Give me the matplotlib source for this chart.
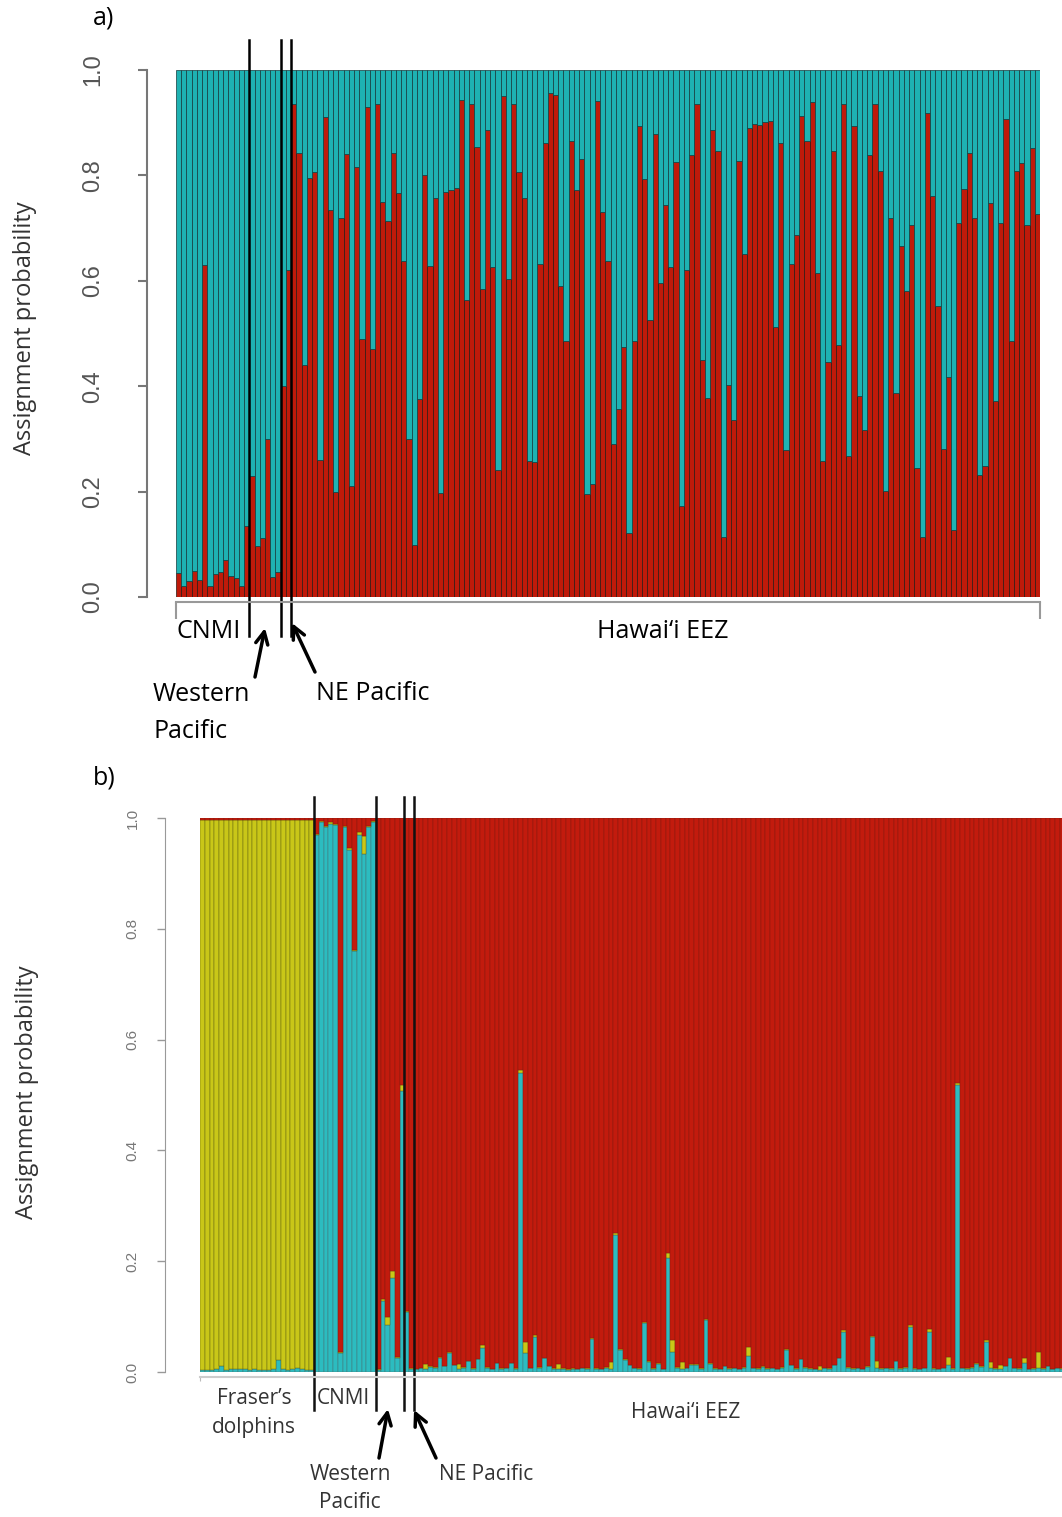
import numpy as np
import matplotlib
matplotlib.use("Agg")
import matplotlib.pyplot as plt

W, H = 1062, 1517

# ---- panel a: proportion assigned to the red cluster (rest is cyan) ----
cnmi_a = [0.045, 0.020, 0.030, 0.050, 0.033, 0.630, 0.020, 0.044, 0.047, 0.070,
          0.040, 0.036, 0.020, 0.135]
wpac_a = [0.230, 0.097, 0.112, 0.300, 0.038, 0.047]
nepac_a = [0.400, 0.620]
hawaii_a = [0.936, 0.843, 0.440, 0.795, 0.807, 0.260, 0.910, 0.734, 0.200, 0.720,
            0.840, 0.210, 0.815, 0.490, 0.930, 0.470, 0.936, 0.750, 0.713, 0.843,
            0.766, 0.638, 0.300, 0.098, 0.375, 0.800, 0.628, 0.758, 0.198, 0.768,
            0.773, 0.777, 0.943, 0.564, 0.936,
            0.853, 0.585, 0.886, 0.626, 0.241, 0.950, 0.603, 0.936, 0.807, 0.758,
            0.259, 0.257, 0.631, 0.861, 0.956, 0.952, 0.591, 0.485, 0.865, 0.772,
            0.832, 0.196, 0.214, 0.942, 0.730, 0.637, 0.291, 0.356, 0.475, 0.121,
            0.485, 0.893, 0.794, 0.525, 0.879, 0.595, 0.743, 0.626, 0.825, 0.172,
            0.621, 0.839, 0.936, 0.449, 0.378, 0.886, 0.846, 0.113, 0.402, 0.336,
            0.827, 0.650, 0.889, 0.898,
            0.896, 0.902, 0.904, 0.512, 0.861, 0.279, 0.631, 0.687, 0.913, 0.865,
            0.940, 0.614, 0.258, 0.445, 0.846, 0.479, 0.936, 0.268, 0.893, 0.381,
            0.316, 0.838, 0.936, 0.808, 0.201, 0.719, 0.388, 0.666, 0.580, 0.706,
            0.244, 0.114, 0.919, 0.761, 0.553, 0.281, 0.417, 0.128, 0.709, 0.775,
            0.843, 0.720, 0.231, 0.248, 0.747, 0.371, 0.709, 0.907, 0.485, 0.808,
            0.824, 0.705, 0.852, 0.727]

# ---- panel b: cyan (bottom) and yellow (middle); red fills the rest ----
fraser_cyan = [0.004, 0.003, 0.004, 0.005, 0.010, 0.004, 0.006, 0.005, 0.006, 0.005,
               0.004, 0.006, 0.004, 0.003, 0.004, 0.005, 0.022, 0.006, 0.004, 0.005,
               0.007, 0.005, 0.004, 0.004]
fraser_yellow = [0.993, 0.994, 0.992, 0.991, 0.986, 0.993, 0.990, 0.992, 0.990, 0.991,
                 0.992, 0.990, 0.993, 0.994, 0.992, 0.991, 0.975, 0.991, 0.993, 0.992,
                 0.989, 0.991, 0.992, 0.993]
cnmi_cyan = [0.970, 0.993, 0.983, 0.990, 0.987, 0.035, 0.983, 0.943, 0.760, 0.969,
             0.935, 0.983, 0.993]
cnmi_yellow = [0.002, 0.002, 0.002, 0.002, 0.002, 0.001, 0.002, 0.002, 0.001, 0.005,
               0.033, 0.002, 0.002]
wpac_cyan = [0.004, 0.129, 0.085, 0.170, 0.025, 0.508]
wpac_yellow = [0.001, 0.003, 0.015, 0.012, 0.002, 0.010]
nepac_cyan = [0.108, 0.006]
nepac_yellow = [0.002, 0.001]
hawaii_cyan = [0.005, 0.007, 0.006, 0.009, 0.008, 0.026, 0.010, 0.034, 0.012, 0.006,
               0.008, 0.019, 0.006, 0.023, 0.043, 0.008, 0.005, 0.016, 0.006, 0.007,
               0.016, 0.006, 0.540, 0.034, 0.007, 0.064, 0.008, 0.025, 0.010, 0.006,
               0.005, 0.006, 0.004, 0.006, 0.005, 0.007, 0.006, 0.059, 0.006, 0.005,
               0.008, 0.006, 0.247, 0.040, 0.022, 0.012, 0.007, 0.006, 0.088, 0.018,
               0.006, 0.015, 0.005, 0.206, 0.037, 0.008, 0.006, 0.007, 0.013, 0.013,
               0.006, 0.094, 0.015, 0.006, 0.005, 0.010, 0.006, 0.007, 0.005, 0.008,
               0.028, 0.007, 0.006, 0.009, 0.006, 0.007, 0.005, 0.008, 0.040, 0.012,
               0.006, 0.023, 0.008, 0.006, 0.005, 0.004, 0.007, 0.006, 0.012, 0.025,
               0.073, 0.008, 0.006, 0.007, 0.005, 0.009, 0.063, 0.008, 0.006, 0.007,
               0.006, 0.019, 0.006, 0.008, 0.082, 0.006, 0.005, 0.007, 0.072, 0.006,
               0.005, 0.007, 0.013, 0.006, 0.518, 0.007, 0.006, 0.008, 0.015, 0.009,
               0.055, 0.008, 0.006, 0.005, 0.010, 0.025, 0.007, 0.006, 0.016, 0.005,
               0.006, 0.007, 0.006, 0.010, 0.005, 0.007, 0.006]
hawaii_yellow = [0.001, 0.001, 0.008, 0.001, 0.001, 0.001, 0.001, 0.002, 0.001, 0.008,
                 0.001, 0.001, 0.001, 0.001, 0.006, 0.001, 0.001, 0.001, 0.001, 0.001,
                 0.001, 0.001, 0.005, 0.021, 0.001, 0.002, 0.001, 0.001, 0.001, 0.001,
                 0.010, 0.001, 0.001, 0.001, 0.001, 0.001, 0.001, 0.002, 0.001, 0.001,
                 0.001, 0.012, 0.004, 0.002, 0.001, 0.001, 0.001, 0.001, 0.002, 0.001,
                 0.001, 0.001, 0.001, 0.008, 0.021, 0.001, 0.012, 0.001, 0.001, 0.001,
                 0.001, 0.002, 0.001, 0.001, 0.001, 0.001, 0.001, 0.001, 0.001, 0.001,
                 0.018, 0.001, 0.001, 0.001, 0.001, 0.001, 0.001, 0.001, 0.002, 0.001,
                 0.001, 0.001, 0.001, 0.001, 0.001, 0.007, 0.001, 0.001, 0.001, 0.001,
                 0.002, 0.001, 0.001, 0.001, 0.001, 0.001, 0.002, 0.012, 0.001, 0.001,
                 0.001, 0.001, 0.001, 0.001, 0.002, 0.001, 0.001, 0.001, 0.005, 0.001,
                 0.001, 0.001, 0.014, 0.001, 0.004, 0.001, 0.001, 0.001, 0.001, 0.001,
                 0.002, 0.010, 0.001, 0.007, 0.001, 0.001, 0.001, 0.001, 0.009, 0.001,
                 0.001, 0.030, 0.001, 0.001, 0.001, 0.001, 0.001]

RED_A, CYAN_A = "#bf1a0a", "#1eb2b2"
RED_B, CYAN_B, YEL_B = "#c21b0d", "#2cbcc0", "#c9c718"
TXT_FONT = ["Open Sans", "DejaVu Sans"]
TICK_FONT = ["Liberation Sans", "DejaVu Sans"]


def box(l, r, t, b):
    return [l / W, 1 - b / H, (r - l) / W, (b - t) / H]


def fpos(x, y):
    return (x / W, 1 - y / H)


fig = plt.figure(figsize=(W / 100, H / 100), dpi=100)

# ================= panel a =================
red_a = np.array(cnmi_a + wpac_a + nepac_a + hawaii_a)
n_a = len(red_a)
xa = np.arange(n_a)
ax = fig.add_axes(box(176, 1040, 70, 597))
ax.bar(xa, red_a, width=1, align="edge", color=RED_A, edgecolor="#2a1a14", linewidth=0.5)
ax.bar(xa, 1 - red_a, bottom=red_a, width=1, align="edge", color=CYAN_A,
       edgecolor="#15393a", linewidth=0.5)
ax.set_xlim(0, n_a)
ax.set_ylim(0, 1)
for s in ["top", "right"]:
    ax.spines[s].set_visible(False)
ax.spines["left"].set_position(("outward", 21))
ax.spines["left"].set_bounds(0, 1)
ax.spines["left"].set_color("#777777")
ax.spines["left"].set_linewidth(1.5)
ax.spines["bottom"].set_position(("outward", 3.6))
ax.spines["bottom"].set_bounds(0, n_a)
ax.spines["bottom"].set_color("#999999")
ax.spines["bottom"].set_linewidth(1.5)
ax.set_xticks([0, n_a])
ax.set_xticklabels([])
ax.tick_params(axis="x", length=12, width=1.5, color="#999999")
ax.set_yticks([0, 0.2, 0.4, 0.6, 0.8, 1.0])
ax.set_yticklabels(["0.0", "0.2", "0.4", "0.6", "0.8", "1.0"], rotation=90,
                   va="center", family=TICK_FONT, fontsize=17, color="#555555")
ax.tick_params(axis="y", length=6.5, width=1.5, color="#777777", pad=24)

bounds_a = np.cumsum([len(cnmi_a), len(wpac_a), len(nepac_a)])
for b in bounds_a:
    ax.plot([b, b], [1.057, -0.074], color="black", lw=1.8,
            transform=ax.get_xaxis_transform(), clip_on=False)

fig.text(*fpos(104, 18), "a)", fontsize=18, family=TXT_FONT, ha="center", va="center")
fig.text(*fpos(25, 328), "Assignment probability", rotation=90, fontsize=17,
         family=TXT_FONT, color="#333333", ha="center", va="center")
fig.text(*fpos(209, 632), "CNMI", fontsize=18, family=TXT_FONT, ha="center", va="center")
fig.text(*fpos(663, 632), "Hawai\u2018i EEZ", fontsize=18, family=TXT_FONT,
         ha="center", va="center")
fig.text(*fpos(153, 694), "Western", fontsize=18, family=TXT_FONT, ha="left", va="center")
fig.text(*fpos(153, 732), "Pacific", fontsize=18, family=TXT_FONT, ha="left", va="center")
fig.text(*fpos(316, 693), "NE Pacific", fontsize=18, family=TXT_FONT, ha="left", va="center")

arrow = dict(arrowstyle="->", lw=2.5, color="black", mutation_scale=22,
             shrinkA=0, shrinkB=0)
fig.add_artist(plt.matplotlib.patches.FancyArrowPatch(
    fpos(255, 677), fpos(265, 628), transform=fig.transFigure, **arrow))
fig.add_artist(plt.matplotlib.patches.FancyArrowPatch(
    fpos(315, 672), fpos(292, 623), transform=fig.transFigure, **arrow))

# ================= panel b =================
cyan_b = np.array(fraser_cyan + cnmi_cyan + wpac_cyan + nepac_cyan + hawaii_cyan)
yel_b = np.array(fraser_yellow + cnmi_yellow + wpac_yellow + nepac_yellow + hawaii_yellow)
red_b = 1 - cyan_b - yel_b
n_b = len(cyan_b)
xb = np.arange(n_b)
bar_w_px = 4.75
ax2 = fig.add_axes(box(200, 200 + n_b * bar_w_px, 818, 1372))
ax2.bar(xb, cyan_b, width=1, align="edge", color=CYAN_B, edgecolor="#4a6a6a", linewidth=0.3)
ax2.bar(xb, yel_b, bottom=cyan_b, width=1, align="edge", color=YEL_B,
        edgecolor="#5a5a10", linewidth=0.3)
ax2.bar(xb, red_b, bottom=cyan_b + yel_b, width=1, align="edge", color=RED_B,
        edgecolor="#7a1a10", linewidth=0.3)
ax2.set_xlim(0, n_b)
ax2.set_ylim(0, 1)
for s in ["top", "right"]:
    ax2.spines[s].set_visible(False)
ax2.spines["left"].set_position(("outward", 25))
ax2.spines["left"].set_bounds(0, 1)
ax2.spines["left"].set_color("#999999")
ax2.spines["bottom"].set_position(("outward", 3.6))
ax2.spines["bottom"].set_bounds(0, n_b)
ax2.spines["bottom"].set_color("#cccccc")
ax2.spines["bottom"].set_linewidth(1.5)
ax2.set_xticks([0])
ax2.set_xticklabels([])
ax2.tick_params(axis="x", length=3, color="#bbbbbb")
ax2.set_yticks([0, 0.2, 0.4, 0.6, 0.8, 1.0])
ax2.set_yticklabels(["0.0", "0.2", "0.4", "0.6", "0.8", "1.0"], rotation=90,
                    va="center", family=TICK_FONT, fontsize=11, color="#777777")
ax2.tick_params(axis="y", length=5.5, width=1, color="#999999", pad=13)

bounds_b = np.cumsum([len(fraser_cyan), len(cnmi_cyan), len(wpac_cyan), len(nepac_cyan)])
for b in bounds_b:
    ax2.plot([b, b], [1.038, -0.069], color="#111111", lw=1.8,
             transform=ax2.get_xaxis_transform(), clip_on=False)

fig.text(*fpos(104, 778), "b)", fontsize=18, family=TXT_FONT, ha="center", va="center")
fig.text(*fpos(27, 1092), "Assignment probability", rotation=90, fontsize=17,
         family=TXT_FONT, color="#333333", ha="center", va="center")
fig.text(*fpos(254, 1399), "Fraser\u2019s", fontsize=15, family=TXT_FONT, color="#333333",
         ha="center", va="center")
fig.text(*fpos(254, 1427), "dolphins", fontsize=15, family=TXT_FONT, color="#333333",
         ha="center", va="center")
fig.text(*fpos(343, 1398), "CNMI", fontsize=15, family=TXT_FONT, color="#333333",
         ha="center", va="center")
fig.text(*fpos(686, 1413), "Hawai\u2018i EEZ", fontsize=15, family=TXT_FONT,
         color="#333333", ha="center", va="center")
fig.text(*fpos(350, 1474), "Western", fontsize=15, family=TXT_FONT, color="#333333",
         ha="center", va="center")
fig.text(*fpos(350, 1503), "Pacific", fontsize=15, family=TXT_FONT, color="#333333",
         ha="center", va="center")
fig.text(*fpos(486, 1474), "NE Pacific", fontsize=15, family=TXT_FONT, color="#333333",
         ha="center", va="center")

fig.add_artist(plt.matplotlib.patches.FancyArrowPatch(
    fpos(379, 1458), fpos(388, 1409), transform=fig.transFigure, **arrow))
fig.add_artist(plt.matplotlib.patches.FancyArrowPatch(
    fpos(436, 1458), fpos(414, 1410), transform=fig.transFigure, **arrow))

fig.savefig("out.png", dpi=100)
